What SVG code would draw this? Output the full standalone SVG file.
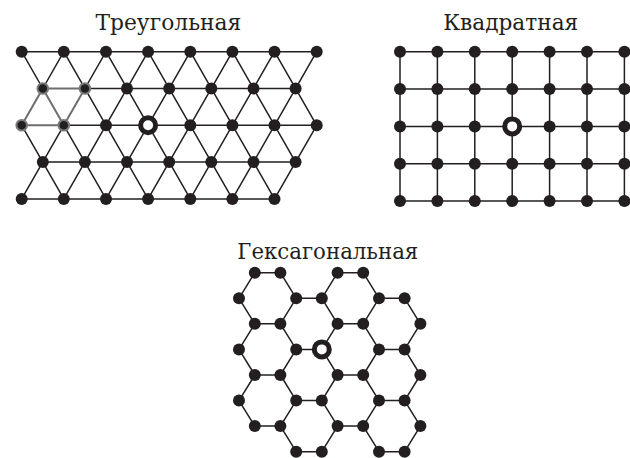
<svg xmlns="http://www.w3.org/2000/svg" width="630" height="458" viewBox="0 0 630 458">
<style>
.bg{fill:#ffffff}
.t{font-family:"DejaVu Serif","Liberation Serif",serif;font-size:22px;fill:#231f20;text-anchor:middle}
.e{fill:none;stroke:#231f20;stroke-width:1.5;stroke-linecap:round;stroke-linejoin:round}
.g{fill:none;stroke:#6e6e6e;stroke-width:2;stroke-linecap:round}
.n{fill:#231f20}
.gn{fill:#231f20;stroke:#7a7a7a;stroke-width:2}
.o{fill:#ffffff;stroke:#231f20;stroke-width:5}
</style>
<defs>
<circle id="d" r="6" class="n"/>
</defs>
<rect class="bg" x="0" y="0" width="630" height="458"/>

<text class="t" x="168.4" y="29.5" textLength="146" lengthAdjust="spacingAndGlyphs">Треугольная</text>
<text class="t" x="510.8" y="29.5" textLength="135" lengthAdjust="spacingAndGlyphs">Квадратная</text>
<text class="t" x="327.8" y="258.5" textLength="181" lengthAdjust="spacingAndGlyphs">Гексагональная</text>

<g id="connectors">
<g id="tri-edges">
<path class="e" d="M21.7 51.7H316.7M84.9 88.5H295.6M63.8 125.3H316.7M42.8 162.1H295.6M21.7 198.9H274.5
M21.7 51.7L42.8 88.5M63.8 125.3L106 198.9M63.8 51.7L148.1 198.9M106 51.7L190.3 198.9M148.1 51.7L232.4 198.9M190.3 51.7L274.5 198.9M232.4 51.7L295.6 162.1M274.5 51.7L316.7 125.3M21.7 125.3L63.8 198.9
M21.7 198.9L63.8 125.3M84.9 88.5L106 51.7M63.8 198.9L148.1 51.7M106 198.9L190.3 51.7M148.1 198.9L232.4 51.7M190.3 198.9L274.5 51.7M232.4 198.9L316.7 51.7M274.5 198.9L316.7 125.3M42.8 88.5L63.8 51.7"/>
<path class="g" d="M42.8 88.5H84.9M21.7 125.3H63.8M21.7 125.3L42.8 88.5M42.8 88.5L63.8 125.3M63.8 125.3L84.9 88.5"/>
</g>
<g id="sq-edges">
<path class="e" d="M400 51.7H624.4M400 89H624.4M400 126.4H624.4M400 163.7H624.4M400 201.1H624.4
M400 51.7V201.1M437.4 51.7V201.1M474.8 51.7V201.1M512.2 51.7V201.1M549.6 51.7V201.1M587 51.7V201.1M624.4 51.7V201.1"/>
</g>
<g id="hex-edges">
<path class="e" d="M254.8 272.7H280.4M337.6 272.7H363.2M254.8 323.8H280.4M337.6 323.8H363.2M254.8 375H280.4M337.6 375H363.2M254.8 426.1H280.4M337.6 426.1H363.2
M296.2 298.3H321.8M379 298.3H404.6M296.2 349.4H321.8M379 349.4H404.6M296.2 400.6H321.8M379 400.6H404.6M296.2 451.7H321.8M379 451.7H404.6
M254.8 272.7L239 298.3L254.8 323.8L239 349.4L254.8 375L239 400.6L254.8 426.1
M280.4 272.7L296.2 298.3L280.4 323.8L296.2 349.4L280.4 375L296.2 400.6L280.4 426.1L296.2 451.7
M337.6 272.7L321.8 298.3L337.6 323.8L321.8 349.4L337.6 375L321.8 400.6L337.6 426.1L321.8 451.7
M363.2 272.7L379 298.3L363.2 323.8L379 349.4L363.2 375L379 400.6L363.2 426.1L379 451.7
M404.6 298.3L420.4 323.8L404.6 349.4L420.4 375L404.6 400.6L420.4 426.1L404.6 451.7"/>
</g>
</g>

<g id="tri-nodes">
<use href="#d" x="21.7" y="51.7"/><use href="#d" x="63.8" y="51.7"/><use href="#d" x="106" y="51.7"/><use href="#d" x="148.1" y="51.7"/><use href="#d" x="190.3" y="51.7"/><use href="#d" x="232.4" y="51.7"/><use href="#d" x="274.5" y="51.7"/><use href="#d" x="316.7" y="51.7"/>
<circle class="gn" cx="42.8" cy="88.5" r="5.3"/><circle class="gn" cx="84.9" cy="88.5" r="5.3"/><use href="#d" x="127" y="88.5"/><use href="#d" x="169.2" y="88.5"/><use href="#d" x="211.3" y="88.5"/><use href="#d" x="253.5" y="88.5"/><use href="#d" x="295.6" y="88.5"/>
<circle class="gn" cx="21.7" cy="125.3" r="5.3"/><circle class="gn" cx="63.8" cy="125.3" r="5.3"/><use href="#d" x="106" y="125.3"/><circle class="o" cx="148.1" cy="125.3" r="7.5"/><use href="#d" x="190.3" y="125.3"/><use href="#d" x="232.4" y="125.3"/><use href="#d" x="274.5" y="125.3"/><use href="#d" x="316.7" y="125.3"/>
<use href="#d" x="42.8" y="162.1"/><use href="#d" x="84.9" y="162.1"/><use href="#d" x="127" y="162.1"/><use href="#d" x="169.2" y="162.1"/><use href="#d" x="211.3" y="162.1"/><use href="#d" x="253.5" y="162.1"/><use href="#d" x="295.6" y="162.1"/>
<use href="#d" x="21.7" y="198.9"/><use href="#d" x="63.8" y="198.9"/><use href="#d" x="106" y="198.9"/><use href="#d" x="148.1" y="198.9"/><use href="#d" x="190.3" y="198.9"/><use href="#d" x="232.4" y="198.9"/><use href="#d" x="274.5" y="198.9"/>
</g>

<g id="sq-nodes">
<use href="#d" x="400" y="51.7"/><use href="#d" x="437.4" y="51.7"/><use href="#d" x="474.8" y="51.7"/><use href="#d" x="512.2" y="51.7"/><use href="#d" x="549.6" y="51.7"/><use href="#d" x="587" y="51.7"/><use href="#d" x="624.4" y="51.7"/>
<use href="#d" x="400" y="89"/><use href="#d" x="437.4" y="89"/><use href="#d" x="474.8" y="89"/><use href="#d" x="512.2" y="89"/><use href="#d" x="549.6" y="89"/><use href="#d" x="587" y="89"/><use href="#d" x="624.4" y="89"/>
<use href="#d" x="400" y="126.4"/><use href="#d" x="437.4" y="126.4"/><use href="#d" x="474.8" y="126.4"/><circle class="o" cx="512.2" cy="126.4" r="7.5"/><use href="#d" x="549.6" y="126.4"/><use href="#d" x="587" y="126.4"/><use href="#d" x="624.4" y="126.4"/>
<use href="#d" x="400" y="163.7"/><use href="#d" x="437.4" y="163.7"/><use href="#d" x="474.8" y="163.7"/><use href="#d" x="512.2" y="163.7"/><use href="#d" x="549.6" y="163.7"/><use href="#d" x="587" y="163.7"/><use href="#d" x="624.4" y="163.7"/>
<use href="#d" x="400" y="201.1"/><use href="#d" x="437.4" y="201.1"/><use href="#d" x="474.8" y="201.1"/><use href="#d" x="512.2" y="201.1"/><use href="#d" x="549.6" y="201.1"/><use href="#d" x="587" y="201.1"/><use href="#d" x="624.4" y="201.1"/>
</g>

<g id="hex-nodes">
<use href="#d" x="254.8" y="272.7"/><use href="#d" x="280.4" y="272.7"/><use href="#d" x="337.6" y="272.7"/><use href="#d" x="363.2" y="272.7"/>
<use href="#d" x="239" y="298.3"/><use href="#d" x="296.2" y="298.3"/><use href="#d" x="321.8" y="298.3"/><use href="#d" x="379" y="298.3"/><use href="#d" x="404.6" y="298.3"/>
<use href="#d" x="254.8" y="323.8"/><use href="#d" x="280.4" y="323.8"/><use href="#d" x="337.6" y="323.8"/><use href="#d" x="363.2" y="323.8"/><use href="#d" x="420.4" y="323.8"/>
<use href="#d" x="239" y="349.4"/><use href="#d" x="296.2" y="349.4"/><circle class="o" cx="321.8" cy="349.4" r="7.5"/><use href="#d" x="379" y="349.4"/><use href="#d" x="404.6" y="349.4"/>
<use href="#d" x="254.8" y="375"/><use href="#d" x="280.4" y="375"/><use href="#d" x="337.6" y="375"/><use href="#d" x="363.2" y="375"/><use href="#d" x="420.4" y="375"/>
<use href="#d" x="239" y="400.6"/><use href="#d" x="296.2" y="400.6"/><use href="#d" x="321.8" y="400.6"/><use href="#d" x="379" y="400.6"/><use href="#d" x="404.6" y="400.6"/>
<use href="#d" x="254.8" y="426.1"/><use href="#d" x="280.4" y="426.1"/><use href="#d" x="337.6" y="426.1"/><use href="#d" x="363.2" y="426.1"/><use href="#d" x="420.4" y="426.1"/>
<use href="#d" x="296.2" y="451.7"/><use href="#d" x="321.8" y="451.7"/><use href="#d" x="379" y="451.7"/><use href="#d" x="404.6" y="451.7"/>
</g>
</svg>
